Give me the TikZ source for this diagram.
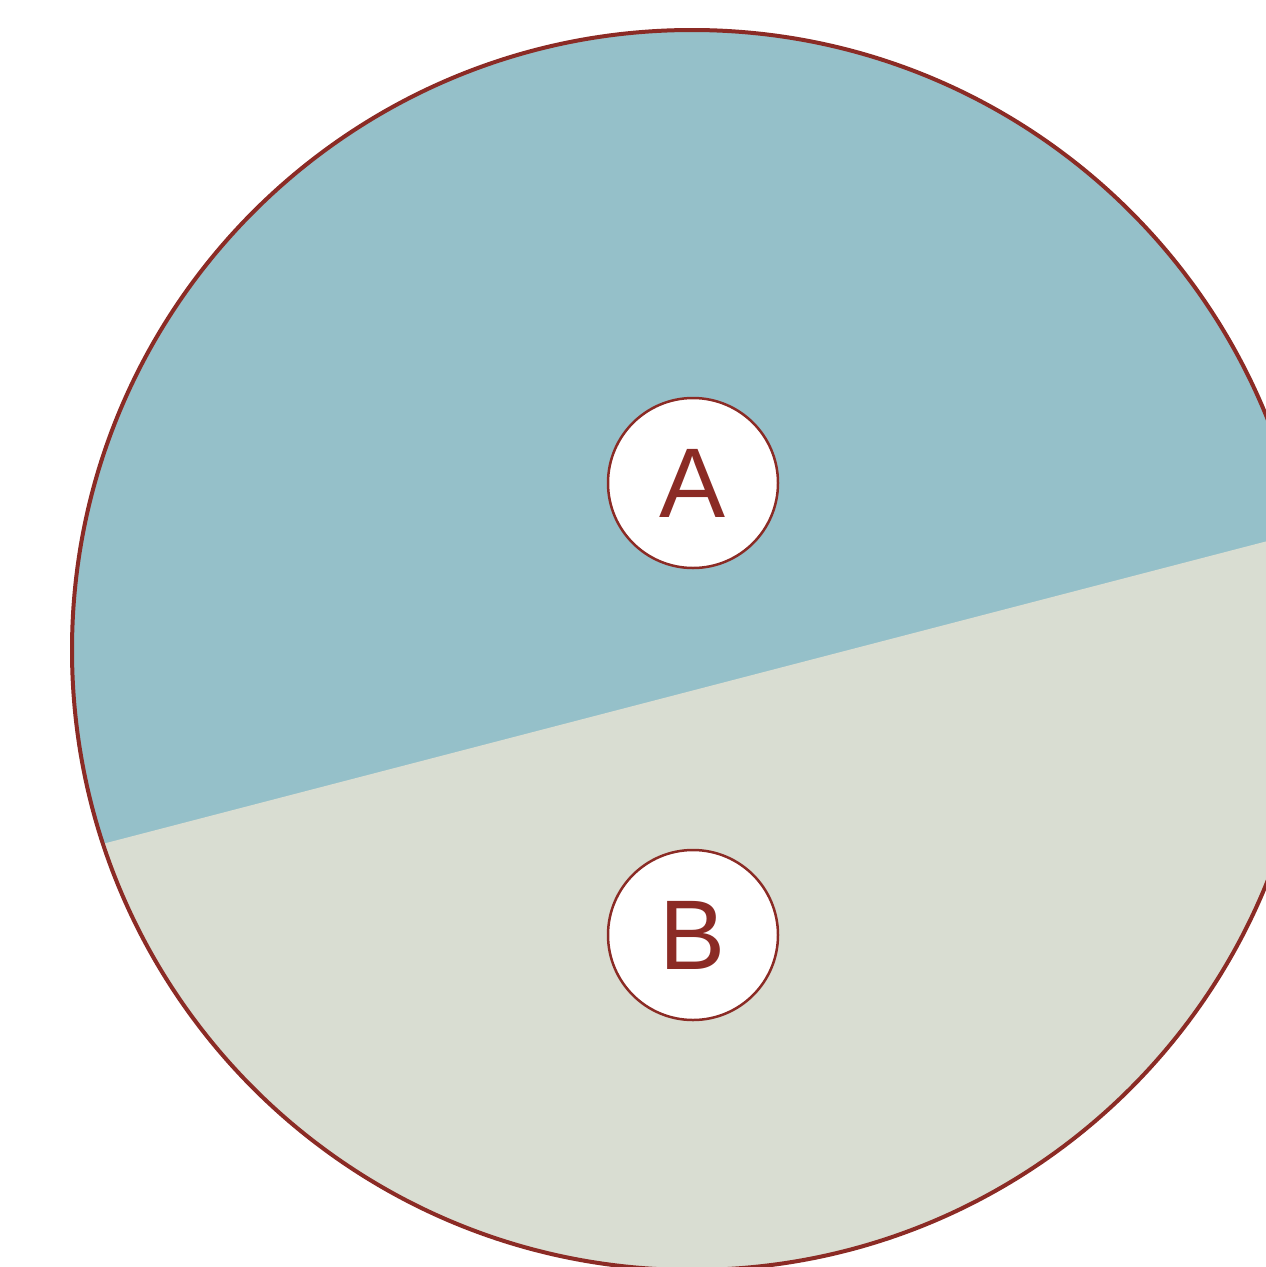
\documentclass[tikz,border=0pt]{standalone}
\usepackage{fontspec}
\setmainfont{Liberation Sans}
\definecolor{seablue}{HTML}{95C0C9}
\definecolor{sand}{HTML}{D9DDD2}
\definecolor{rim}{HTML}{8B2B25}
\begin{document}
\begin{tikzpicture}[x=1pt,y=-1pt,
  label/.style={circle,draw=rim,line width=2.5pt,fill=white,minimum size=170pt,inner sep=0pt,
    text=rim,font=\fontsize{99}{99}\selectfont}]
\useasboundingbox (0,0) rectangle (1266,1267);
\fill[white] (0,0) rectangle (1266,1267);
\begin{scope}
  \clip (692,650) circle (620);
  \fill[seablue] (0,0) rectangle (1400,1400);
  \fill[sand] (0,870.6) -- (1400,506.6) -- (1400,1400) -- (0,1400) -- cycle;
\end{scope}
\node[circle,draw=rim,line width=4pt,minimum size=1240pt,inner sep=0pt] (disk) at (692,650) {};
\node[label] (a) at (693,483) {A};
\node[label] (b) at (693,935) {B};
\end{tikzpicture}
\end{document}
